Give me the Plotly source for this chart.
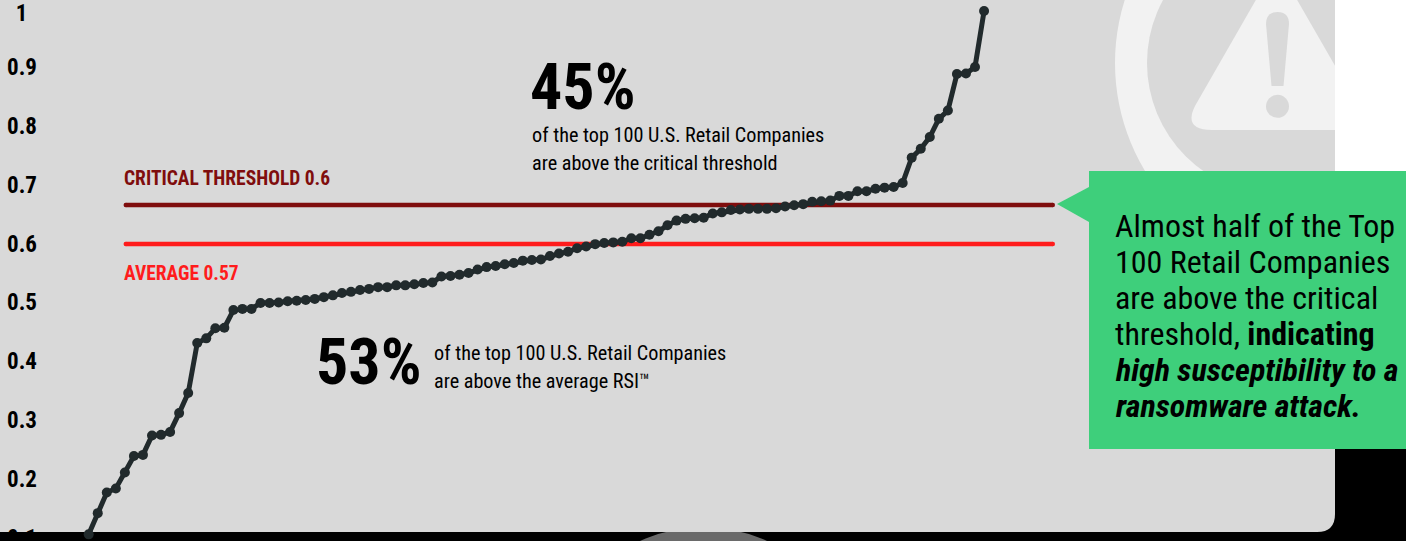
import plotly.graph_objects as go

# ---------- data ----------
rsi_scores = [
    .106, .142, .177, .184, .211, .239, .241, .274, .275, .280,
    .312, .346, .431, .439, .456, .457, .487, .489, .489, .499,
    .499, .500, .502, .503, .504, .506, .509, .512, .516, .518,
    .521, .523, .526, .526, .529, .529, .531, .533, .534, .544,
    .545, .547, .550, .556, .560, .562, .565, .567, .571, .572,
    .573, .579, .583, .586, .592, .595, .599, .601, .602, .603,
    .609, .609, .615, .621, .631, .639, .642, .643, .644, .651,
    .653, .657, .658, .659, .659, .659, .660, .663, .665, .667,
    .671, .672, .673, .681, .681, .689, .689, .693, .695, .696,
    .703, .746, .761, .781, .812, .826, .888, .889, .900, .995,
]
ranks = list(range(1, len(rsi_scores) + 1))
tick_values = [.992, .9, .8, .7, .6, .5, .4, .3, .2, .1]
tick_labels = ["1\u00a0\u2009", "0.9", "0.8", "0.7", "0.6", "0.5", "0.4", "0.3", "0.2", "0.1"]
line_span = [5.1, 107.6]
critical_level = [.6655, .6655]
average_level = [.5993, .5993]
critical_label = "CRITICAL THRESHOLD 0.6"
average_label = "AVERAGE 0.57"
callout_lines = [
    "Almost half of the Top",
    "100 Retail Companies",
    "are above the critical",
    "threshold, <b>indicating</b>",
    "<b><i>high susceptibility to a</i></b>",
    "<b><i>ransomware attack.</i></b>",
]

# ---------- style ----------
W, H = 1406, 541
FONT = "Roboto Condensed, Liberation Sans Narrow, Arial Narrow, sans-serif"
PANEL = "#d9d9d9"
GHOST = "#f2f2f2"
GREEN = "#3ecf7b"
DARK = "#212a2c"
CRIT = "#7f0d0d"
AVG = "#ff1c1c"
MARGIN_L = 38


def X(px):
    return (px - MARGIN_L) / (W - MARGIN_L)


def Y(py):
    return 1 - py / H


def path(*pts, close=True):
    d = "M" + " L".join(f"{X(a)} {Y(b)}" for a, b in pts)
    return d + (" Z" if close else "")


def circle(cx, cy, r, color):
    return dict(type="circle", xref="paper", yref="paper", layer="below",
                x0=X(cx - r), x1=X(cx + r), y0=Y(cy + r), y1=Y(cy - r),
                fillcolor=color, line_width=0)


def rect(x0, y0, x1, y1, color):
    return dict(type="rect", xref="paper", yref="paper", layer="below",
                x0=X(x0), x1=X(x1), y0=Y(y1), y1=Y(y0), fillcolor=color, line_width=0)


def poly(d, color):
    return dict(type="path", xref="paper", yref="paper", layer="below", path=d,
                fillcolor=color, line_width=0)


panel_path = (
    f"M{X(0)} {Y(0)} L{X(1335)} {Y(0)} L{X(1335)} {Y(514)} "
    f"Q{X(1335)} {Y(532)} {X(1317)} {Y(532)} L{X(0)} {Y(532)} Z"
)
tri_path = (
    f"M{X(1257)} {Y(-2)} L{X(1195)} {Y(106)} Q{X(1183)} {Y(130)} {X(1212)} {Y(130)} "
    f"L{X(1372)} {Y(130)} L{X(1296)} {Y(-2)} Z"
)
bang_path = (
    f"M{X(1266)} {Y(24)} Q{X(1266)} {Y(12)} {X(1277.5)} {Y(12)} Q{X(1289)} {Y(12)} {X(1289)} {Y(24)} "
    f"L{X(1283.5)} {Y(86)} L{X(1271.5)} {Y(86)} Z"
)

shapes = [
    circle(703.5, 678, 151, "#6a6a6a"),
    poly(panel_path, PANEL),
    circle(1324, 63, 209, GHOST),
    circle(1279, 63, 132, PANEL),
    poly(tri_path, GHOST),
    poly(bang_path, PANEL),
    circle(1277.5, 106.3, 11.5, PANEL),
    rect(1335, 0, W, 300, "#ffffff"),
    rect(1089, 171, W, 449, GREEN),
    poly(path((1057, 204), (1089, 187), (1089, 222)), GREEN),
]


def note(text, px, py, size, color="#000000", anchor="left"):
    return dict(text=text, xref="paper", yref="paper", x=X(px), y=Y(py), xanchor=anchor,
                yanchor="middle", showarrow=False, align="left",
                font=dict(family=FONT, size=size, color=color))


annotations = [
    note("<b>45%</b>", 528, 87, 64),
    note("of the top 100 U.S. Retail Companies", 529.5, 135, 20.2),
    note("are above the critical threshold", 529.5, 163, 20.2),
    note("<b>53%</b>", 314, 362, 64),
    note("of the top 100 U.S. Retail Companies", 431.5, 353, 20.2),
    note("are above the average RSI™", 431.5, 381, 20.2),
    note(f"<b>{critical_label}</b>", 121.5, 178.5, 19.5, CRIT),
    note(f"<b>{average_label}</b>", 121.5, 273, 19.5, AVG),
]
for i, line in enumerate(callout_lines):
    annotations.append(note(line, 1113, 226 + 36 * i, 32))

fig = go.Figure()
for level, color in ((critical_level, CRIT), (average_level, AVG)):
    fig.add_trace(go.Scatter(x=line_span, y=level, mode="lines+markers",
                             line=dict(color=color, width=4.5),
                             marker=dict(color=color, size=4.5), hoverinfo="skip"))
fig.add_trace(go.Scatter(x=ranks, y=rsi_scores, mode="lines+markers",
                         line=dict(color=DARK, width=5),
                         marker=dict(color=DARK, size=10), hoverinfo="skip",
                         cliponaxis=False))

fig.update_layout(
    width=W, height=H, showlegend=False, hovermode=False,
    margin=dict(l=MARGIN_L, r=0, t=0, b=0, pad=0, autoexpand=False),
    paper_bgcolor="#000000", plot_bgcolor="rgba(0,0,0,0)",
    shapes=shapes, annotations=annotations,
    xaxis=dict(range=[1 + (MARGIN_L - 88.7) / 9.044, 1 + (W - 88.7) / 9.044],
               visible=False, fixedrange=True, automargin=False),
    yaxis=dict(range=[0.0947, 1.0138], tickmode="array", tickvals=tick_values, ticktext=tick_labels,
               showgrid=False, zeroline=False, showline=False, ticks="", fixedrange=True,
               ticklabeloverflow="allow", automargin=False,
               tickfont=dict(family=FONT, size=23, color="#000000", weight="bold")),
)
fig.write_html("out.html", config={"displayModeBar": False},
               post_script="document.body.style.margin='0';")
